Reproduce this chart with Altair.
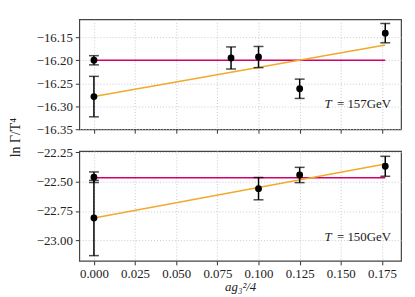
import altair as alt
import pandas as pd

# ---- data ----
x_top = [0.0, 0.0, 0.0833, 0.1, 0.125, 0.177]
y_top = [-16.200, -16.279, -16.195, -16.193, -16.262, -16.141]
e_top = [0.010, 0.044, 0.024, 0.023, 0.021, 0.021]

x_bot = [0.0, 0.0, 0.1, 0.125, 0.177]
y_bot = [-22.463, -22.810, -22.560, -22.444, -22.370]
e_bot = [0.045, 0.320, 0.095, 0.065, 0.085]

fit_x = [0.0, 0.177]
const_top = [-16.200, -16.200]
lin_top = [-16.279, -16.167]
const_bot = [-22.468, -22.468]
lin_bot = [-22.810, -22.350]

x_ticks = [0.0, 0.025, 0.05, 0.075, 0.1, 0.125, 0.15, 0.175]
yt_ticks = [-16.15, -16.20, -16.25, -16.30, -16.35]
yb_ticks = [-22.25, -22.50, -22.75, -23.00]

labels = ["157GeV", "150GeV"]
label_x = [0.1805, 0.1805]
label_y = [-16.296, -22.975]

x_domain = [-0.0089, 0.1866]
yt_domain = [-16.35, -16.111]
yb_domain = [-23.175, -22.24]

FONT = "Liberation Serif"
RED = "#d1006a"
ORANGE = "#f2a92c"
W, H = 325, 111


def panel(xs, ys, es, cst, lin, ydom, yticks, lab, lx, ly, bottom):
    pts = pd.DataFrame({"x": xs, "y": ys, "lo": [a - b for a, b in zip(ys, es)],
                        "hi": [a + b for a, b in zip(ys, es)]})
    fits = pd.DataFrame({"x": fit_x, "c": cst, "l": lin})
    ann = pd.DataFrame({"x": [lx], "y": [ly], "t": ["= " + lab]})

    xaxis = alt.Axis(values=x_ticks, format=".3f", labels=bottom,
                     title="ag₃²/4" if bottom else None,
                     titleFontStyle="italic", titlePadding=0)
    if bottom:
        yaxis = alt.Axis(values=yticks, format=".2f", title="ln Γ/T⁴",
                         titleAngle=-90, titleX=-71, titleY=-14,
                         titleFontSize=14,
                         titleBaseline="top", titleAlign="center")
    else:
        yaxis = alt.Axis(values=yticks, format=".2f", title=None)

    xs_ = alt.Scale(domain=x_domain, nice=False, zero=False)
    ys_ = alt.Scale(domain=ydom, nice=False, zero=False)
    X = lambda f: alt.X(f, scale=xs_, axis=xaxis)
    Y = lambda f: alt.Y(f, scale=ys_, axis=yaxis)

    base_pts = alt.Chart(pts)
    err = base_pts.mark_rule(color="black", strokeWidth=1.5).encode(
        x=X("x:Q"), y=Y("lo:Q"), y2="hi:Q")
    cap_lo = base_pts.mark_tick(color="black", orient="horizontal", size=10,
                                thickness=1.5).encode(x=X("x:Q"), y=Y("lo:Q"))
    cap_hi = base_pts.mark_tick(color="black", orient="horizontal", size=10,
                                thickness=1.5).encode(x=X("x:Q"), y=Y("hi:Q"))
    dots = base_pts.mark_circle(color="black", size=48, opacity=1).encode(
        x=X("x:Q"), y=Y("y:Q"))
    c_line = alt.Chart(fits).mark_line(color=RED, strokeWidth=1.5).encode(
        x=X("x:Q"), y=Y("c:Q"))
    l_line = alt.Chart(fits).mark_line(color=ORANGE, strokeWidth=1.5).encode(
        x=X("x:Q"), y=Y("l:Q"))
    t1 = alt.Chart(ann).mark_text(font=FONT, fontSize=13, align="right",
                                  baseline="middle", color="#222").encode(
        x=X("x:Q"), y=Y("y:Q"), text="t:N")
    t2 = alt.Chart(ann).mark_text(font=FONT, fontSize=13, align="right",
                                  baseline="middle", fontStyle="italic",
                                  color="#222", dx=-60).encode(
        x=X("x:Q"), y=Y("y:Q"), text=alt.value("T"))
    return alt.layer(c_line, l_line, err, cap_lo, cap_hi, dots, t1, t2).properties(
        width=W, height=H)


top = panel(x_top, y_top, e_top, const_top, lin_top, yt_domain, yt_ticks,
            labels[0], label_x[0], label_y[0], False)
bot = panel(x_bot, y_bot, e_bot, const_bot, lin_bot, yb_domain, yb_ticks,
            labels[1], label_x[1], label_y[1], True)

chart = alt.vconcat(top, bot, spacing=22, bounds="flush").properties(
    padding={"left": 0, "top": 9, "right": 5, "bottom": 2}
).configure_view(stroke="#444", strokeWidth=1.2).configure_axis(
    domain=False, grid=True, gridDash=[1, 2], gridColor="#c8c8c8",
    tickSize=4, tickColor="#333", labelFont=FONT, labelFontSize=13,
    labelColor="#222", labelPadding=3, labelOverlap=False, labelFlush=False,
    titleFont=FONT, titleFontSize=13, titleFontWeight="normal",
    titleColor="#222")

chart.save("out.html", embed_options={"renderer": "svg", "actions": False})
